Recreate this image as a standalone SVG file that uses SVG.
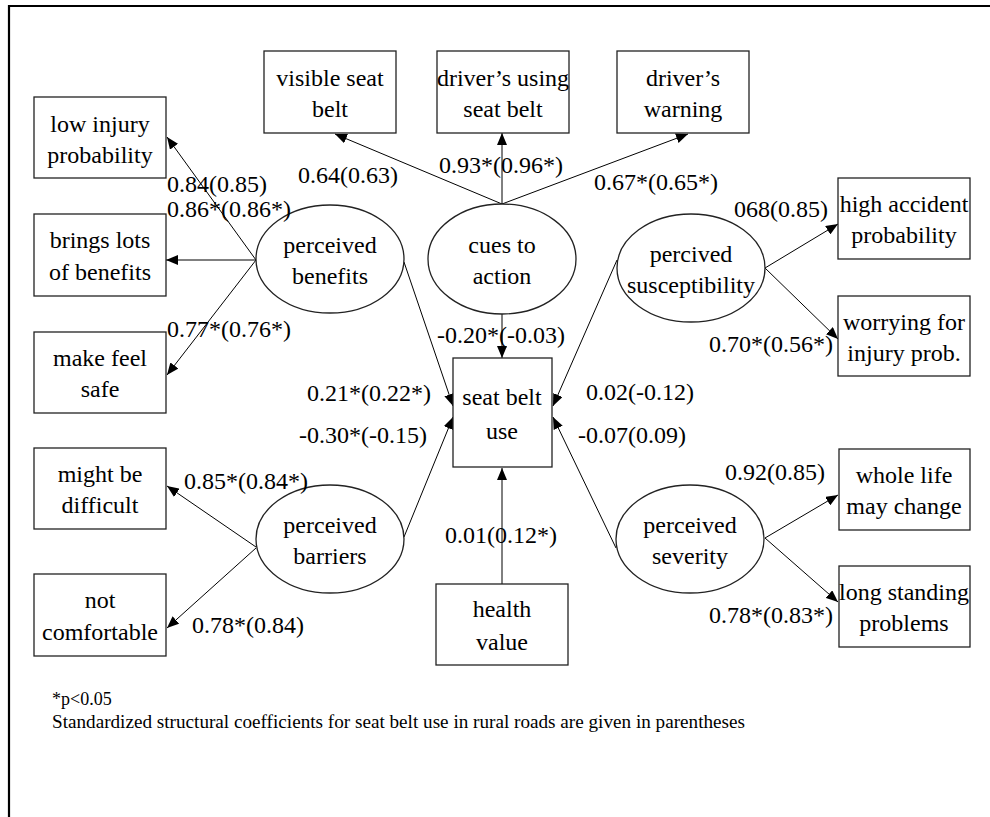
<svg xmlns="http://www.w3.org/2000/svg" width="990" height="817" viewBox="0 0 990 817" font-family="'Liberation Serif', 'Times New Roman', serif">
<defs>
<marker id="ah" markerUnits="userSpaceOnUse" markerWidth="12" markerHeight="10" refX="12" refY="5" orient="auto">
<path d="M0,0 L12,5 L0,10 z" fill="#000"/>
</marker>
<style>
.n text{font-family:'Liberation Serif','Times New Roman',serif;font-size:24px;text-anchor:middle;fill:#000;}
.n rect,.n ellipse{fill:#fff;stroke:#222;stroke-width:1.3;}
.lbl text{font-family:'Liberation Serif','Times New Roman',serif;font-size:24px;fill:#000;}
.c line{stroke:#000;stroke-width:1;marker-end:url(#ah);}
.foot{font-family:'Liberation Serif','Times New Roman',serif;font-size:18px;fill:#000;}
</style>
</defs>
<rect width="990" height="817" fill="#fff"/>
<path d="M9,817 V6 H990" fill="none" stroke="#000" stroke-width="2.2"/>

<g class="c" id="connectors">
<line x1="502" y1="204" x2="335" y2="134"/>
<line x1="502" y1="204" x2="502" y2="133"/>
<line x1="502" y1="204" x2="688" y2="134"/>
<line x1="502" y1="314" x2="502" y2="358"/>
<line x1="256" y1="260" x2="167" y2="137"/>
<line x1="256" y1="260" x2="166" y2="260"/>
<line x1="256" y1="260" x2="167" y2="375"/>
<line x1="404" y1="262" x2="453" y2="406"/>
<line x1="256" y1="547" x2="167" y2="486"/>
<line x1="256" y1="548" x2="167" y2="628"/>
<line x1="404" y1="537" x2="453" y2="417"/>
<line x1="617" y1="260" x2="553" y2="406"/>
<line x1="765" y1="268" x2="838" y2="224"/>
<line x1="765" y1="268" x2="838" y2="339"/>
<line x1="616" y1="548" x2="553" y2="417"/>
<line x1="765" y1="538" x2="838" y2="495"/>
<line x1="765" y1="538" x2="838" y2="602"/>
<line x1="502" y1="584" x2="502" y2="468"/>
</g>

<g class="n" id="visible-seat-belt"><rect x="264" y="51" width="132" height="82"/><text x="330" y="86">visible seat</text><text x="330" y="117">belt</text></g>
<g class="n" id="drivers-using"><rect x="437" y="51" width="132" height="82"/><text x="503" y="86">driver’s using</text><text x="503" y="117">seat belt</text></g>
<g class="n" id="drivers-warning"><rect x="617" y="51" width="132" height="82"/><text x="683" y="86">driver’s</text><text x="683" y="117">warning</text></g>
<g class="n" id="low-injury"><rect x="34" y="97" width="132" height="81"/><text x="100" y="132">low injury</text><text x="100" y="163">probability</text></g>
<g class="n" id="brings-benefits"><rect x="34" y="214" width="132" height="82"/><text x="100" y="248">brings lots</text><text x="100" y="280">of benefits</text></g>
<g class="n" id="feel-safe"><rect x="34" y="332" width="132" height="81"/><text x="100" y="366">make feel</text><text x="100" y="397">safe</text></g>
<g class="n" id="might-be-difficult"><rect x="34" y="448" width="132" height="81"/><text x="100" y="482">might be</text><text x="100" y="513">difficult</text></g>
<g class="n" id="not-comfortable"><rect x="34" y="574" width="132" height="82"/><text x="100" y="608">not</text><text x="100" y="640">comfortable</text></g>
<g class="n" id="high-accident"><rect x="838" y="178" width="132" height="81"/><text x="904" y="212">high accident</text><text x="904" y="243">probability</text></g>
<g class="n" id="worrying"><rect x="838" y="296" width="132" height="80"/><text x="904" y="330">worrying for</text><text x="904" y="361">injury prob.</text></g>
<g class="n" id="whole-life"><rect x="839" y="449" width="131" height="81"/><text x="904" y="483">whole life</text><text x="904" y="514">may change</text></g>
<g class="n" id="long-standing"><rect x="839" y="566" width="131" height="81"/><text x="904" y="600">long standing</text><text x="904" y="631">problems</text></g>
<g class="n" id="health-value"><rect x="436" y="584" width="132" height="81"/><text x="502" y="617">health</text><text x="502" y="650">value</text></g>
<g class="n" id="seat-belt-use"><rect x="453" y="358" width="99" height="109"/><text x="502" y="405">seat belt</text><text x="502" y="439">use</text></g>

<g class="n" id="perceived-benefits"><ellipse cx="330" cy="259" rx="74" ry="54"/><text x="330" y="253">perceived</text><text x="330" y="284">benefits</text></g>
<g class="n" id="cues-to-action"><ellipse cx="502" cy="259" rx="74" ry="55"/><text x="502" y="253">cues to</text><text x="502" y="284">action</text></g>
<g class="n" id="perceived-susceptibility"><ellipse cx="691" cy="268" rx="74" ry="54"/><text x="691" y="262">percived</text><text x="691" y="293">susceptibility</text></g>
<g class="n" id="perceived-barriers"><ellipse cx="330" cy="539" rx="74" ry="54"/><text x="330" y="533">perceived</text><text x="330" y="564">barriers</text></g>
<g class="n" id="perceived-severity"><ellipse cx="690" cy="539" rx="74" ry="54"/><text x="690" y="533">perceived</text><text x="690" y="564">severity</text></g>

<g class="lbl" id="labels">
<text x="298" y="183">0.64(0.63)</text>
<text x="439" y="173">0.93*(0.96*)</text>
<text x="594" y="190">0.67*(0.65*)</text>
<text x="167" y="192">0.84(0.85)</text>
<text x="167" y="217">0.86*(0.86*)</text>
<text x="167" y="337">0.77*(0.76*)</text>
<text x="734" y="217">068(0.85)</text>
<text x="709" y="352">0.70*(0.56*)</text>
<text x="437" y="343">-0.20*(-0.03)</text>
<text x="307" y="401">0.21*(0.22*)</text>
<text x="299" y="443">-0.30*(-0.15)</text>
<text x="586" y="400">0.02(-0.12)</text>
<text x="578" y="443">-0.07(0.09)</text>
<text x="184" y="489">0.85*(0.84*)</text>
<text x="192" y="633">0.78*(0.84)</text>
<text x="445" y="543">0.01(0.12*)</text>
<text x="725" y="480">0.92(0.85)</text>
<text x="709" y="623">0.78*(0.83*)</text>
</g>

<text class="foot" x="52" y="705">*p&lt;0.05</text>
<text class="foot" x="52" y="728" textLength="693" lengthAdjust="spacingAndGlyphs">Standardized structural coefficients for seat belt use in rural roads are given in parentheses</text>
</svg>
